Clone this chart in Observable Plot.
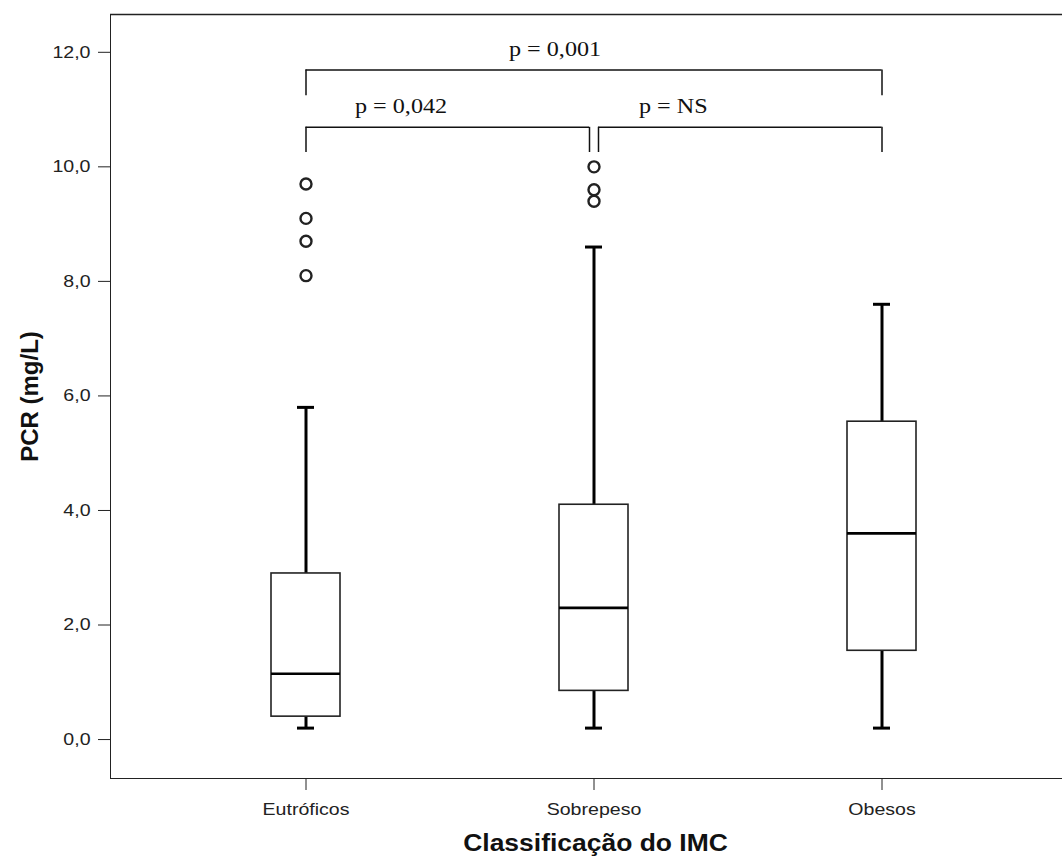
<!DOCTYPE html>
<html><head><meta charset="utf-8">
<script src="https://cdn.jsdelivr.net/npm/d3@7"></script>
<script src="https://cdn.jsdelivr.net/npm/@observablehq/plot@0.6"></script>
<style>body{margin:0;background:#fff}</style>
</head><body><div id="chart"></div>
<script>
const categories = ["Eutróficos", "Sobrepeso", "Obesos"];
const whiskerLow = [0.2, 0.2, 0.2];
const q1 = [0.40, 0.85, 1.55];
const medians = [1.15, 2.30, 3.60];
const q3 = [2.90, 4.10, 5.55];
const whiskerHigh = [5.80, 8.60, 7.60];
const outlierCategory = ["Eutróficos", "Eutróficos", "Eutróficos", "Eutróficos", "Sobrepeso", "Sobrepeso", "Sobrepeso"];
const outlierValue = [8.1, 8.7, 9.1, 9.7, 9.4, 9.6, 10.0];
const yTicks = [0, 2, 4, 6, 8, 10, 12];
const yDomain = [-0.68, 12.66];
const comparisonFrom = ["Eutróficos", "Eutróficos", "Sobrepeso"];
const comparisonTo = ["Obesos", "Sobrepeso", "Obesos"];
const comparisonLevel = [11.69, 10.69, 10.69];
const comparisonDrop = [11.24, 10.25, 10.25];
const comparisonLabel = ["p = 0,001", "p = 0,042", "p = NS"];
const comparisonLabelY = [12.05, 11.05, 11.05];
const xTitle = "Classificação do IMC";
const yTitle = "PCR (mg/L)";

const boxes = categories.map((c, i) => ({c, lo: whiskerLow[i], q1: q1[i], med: medians[i], q3: q3[i], hi: whiskerHigh[i]}));
const outliers = outlierValue.map((v, i) => ({c: outlierCategory[i], v}));
const comps = comparisonLabel.map((label, i) => ({from: comparisonFrom[i], to: comparisonTo[i], level: comparisonLevel[i], drop: comparisonDrop[i], label, ly: comparisonLabelY[i]}));

const half = 34.5, gap = 4.5;
const serif = "Liberation Serif, Times New Roman, serif";

const chart = Plot.plot({
  width: 1062,
  height: 867,
  marginLeft: 110,
  marginRight: 0,
  marginTop: 14,
  marginBottom: 89,
  style: {fontFamily: "Liberation Sans, Arial, sans-serif", fontSize: "17px", color: "#222", background: "#fff"},
  x: {type: "band", domain: categories, paddingInner: 0.761, paddingOuter: 0.528, align: 0.523,
      tickSize: 12, tickPadding: 12, line: true, label: null},
  y: {domain: yDomain, ticks: yTicks, tickFormat: d => d.toFixed(1).replace(".", ","),
      tickSize: 12, tickPadding: 8, line: true, label: null},
  marks: [
    Plot.ruleY([yDomain[1]], {stroke: "#222", strokeWidth: 1.5}),
    // whiskers
    Plot.ruleX(boxes, {x: "c", y1: "lo", y2: "q1", stroke: "#000", strokeWidth: 3}),
    Plot.ruleX(boxes, {x: "c", y1: "q3", y2: "hi", stroke: "#000", strokeWidth: 3}),
    Plot.tickY(boxes, {x: "c", y: "lo", insetLeft: 26, insetRight: 26, stroke: "#000", strokeWidth: 3}),
    Plot.tickY(boxes, {x: "c", y: "hi", insetLeft: 26, insetRight: 26, stroke: "#000", strokeWidth: 3}),
    // boxes
    Plot.barY(boxes, {x: "c", y1: "q1", y2: "q3", fill: "#fff", stroke: "#222", strokeWidth: 1.6}),
    Plot.tickY(boxes, {x: "c", y: "med", stroke: "#000", strokeWidth: 2.6}),
    // outliers
    Plot.dot(outliers, {x: "c", y: "v", r: 5.5, stroke: "#222", strokeWidth: 2.4, fill: "none"}),
    // comparison brackets
    Plot.ruleY([comps[0]], {x1: "from", x2: "to", y: "level", insetLeft: half, insetRight: half, stroke: "#111", strokeWidth: 1.5}),
    Plot.ruleY([comps[1]], {x1: "from", x2: "to", y: "level", insetLeft: half, insetRight: half + gap, stroke: "#111", strokeWidth: 1.5}),
    Plot.ruleY([comps[2]], {x1: "from", x2: "to", y: "level", insetLeft: half + gap, insetRight: half, stroke: "#111", strokeWidth: 1.5}),
    Plot.ruleX([comps[0]], {x: "from", y1: "level", y2: "drop", stroke: "#111", strokeWidth: 1.5}),
    Plot.ruleX([comps[0], comps[2]], {x: "to", y1: "level", y2: "drop", stroke: "#111", strokeWidth: 1.5}),
    Plot.ruleX([comps[1]], {x: "from", y1: "level", y2: "drop", stroke: "#111", strokeWidth: 1.5}),
    Plot.ruleX([comps[1]], {x: "to", y1: "level", y2: "drop", dx: -gap, stroke: "#111", strokeWidth: 1.5}),
    Plot.ruleX([comps[2]], {x: "from", y1: "level", y2: "drop", dx: gap, stroke: "#111", strokeWidth: 1.5}),
    Plot.text([comps[0]], {x: "to", y: "ly", text: "label", dx: -373, textAnchor: "start", fontFamily: serif, fontSize: 21, fill: "#111"}),
    Plot.text([comps[1]], {x: "from", y: "ly", text: "label", dx: 49, textAnchor: "start", fontFamily: serif, fontSize: 21, fill: "#111"}),
    Plot.text([comps[2]], {x: "from", y: "ly", text: "label", dx: 45, textAnchor: "start", fontFamily: serif, fontSize: 21, fill: "#111"}),
    // titles
    Plot.text([xTitle], {frameAnchor: "bottom", text: d => d, dy: 72, dx: 9, fontWeight: "bold", fontSize: 23, fill: "#111"}),
    Plot.text([yTitle], {frameAnchor: "left", text: d => d, dx: -80, rotate: -90, textAnchor: "middle", fontWeight: "bold", fontSize: 24, fill: "#111"})
  ]
});
document.getElementById("chart").appendChild(chart);

// the reference's lettering is horizontally widened; stretch non-rotated text a little
d3.select(chart).selectAll("text").each(function () {
  const t = this.getAttribute("transform") || "";
  const pt = this.parentNode && this.parentNode.getAttribute ? (this.parentNode.getAttribute("transform") || "") : "";
  if (/rotate/.test(t) || /rotate/.test(pt)) return;
  const len = this.getComputedTextLength();
  if (len > 0) {
    this.setAttribute("textLength", (len * 1.15).toFixed(1));
    this.setAttribute("lengthAdjust", "spacingAndGlyphs");
  }
});
</script>
</body></html>
